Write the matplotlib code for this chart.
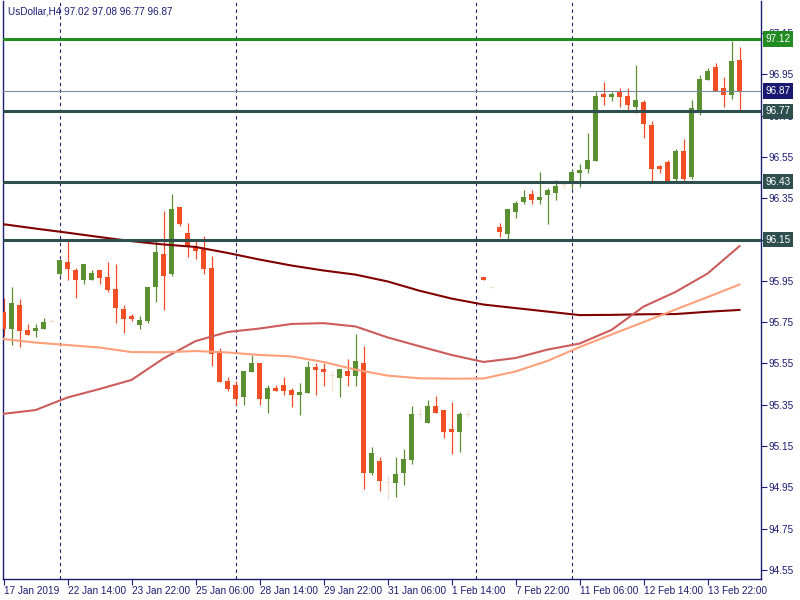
import numpy as np
import matplotlib
matplotlib.use('Agg')
import matplotlib.pyplot as plt

plt.rcParams['font.family'] = ['Liberation Sans', 'DejaVu Sans']

symbol = 'UsDollar,H4'
last_ohlc = [97.02, 97.08, 96.77, 96.87]

# H4 candles, index = bar number on the chart (59 is an empty slot)
opens = [95.799, 95.718, 95.831, 95.712, 95.708, 95.718, 95.757, 95.983, 96.041, 96.002,
         95.954, 95.954, 96.002, 95.967, 95.910, 95.812, 95.781, 95.737, 95.757, 95.918,
         96.080, 95.983, 96.307, 96.181, 96.118, 96.109, 96.012, 95.610, 95.465, 95.445,
         95.389, 95.510, 95.552, 95.379, 95.431, 95.445, 95.421, 95.398, 95.408, 95.532,
         95.523, 95.494, 95.481, 95.513, 95.490, 95.552, 95.021, 95.077, 94.976, 94.972,
         95.021, 95.084, 95.305, 95.263, 95.344, 95.324, 95.232, 95.219, 95.305, np.nan,
         95.968, 95.920, 96.210, 96.178, 96.285, 96.333, 96.370, 96.343, 96.367, 96.377,
         96.419, 96.425, 96.473, 96.493, 96.532, 96.855, 96.842, 96.864, 96.845, 96.793,
         96.816, 96.704, 96.507, 96.525, 96.444, 96.579, 96.454, 96.769, 96.924, 96.985,
         96.884, 96.851, 97.02]
highs = [95.867, 95.921, 95.863, 95.741, 95.741, 95.770, 95.765, 96.051, 96.148, 96.012,
         96.031, 96.002, 96.002, 96.041, 96.031, 95.831, 95.789, 95.779, 95.918, 96.154,
         96.287, 96.370, 96.307, 96.230, 96.148, 96.167, 96.070, 95.624, 95.484, 95.465,
         95.513, 95.591, 95.552, 95.445, 95.445, 95.484, 95.431, 95.455, 95.562, 95.552,
         95.552, 95.513, 95.523, 95.571, 95.692, 95.634, 95.145, 95.097, 95.011, 95.098,
         95.135, 95.344, 95.334, 95.373, 95.392, 95.324, 95.363, 95.314, 95.324, np.nan,
         95.968, 95.921, 96.230, 96.298, 96.336, 96.390, 96.390, 96.477, 96.399, 96.438,
         96.428, 96.487, 96.516, 96.666, 96.864, 96.913, 96.864, 96.884, 96.884, 96.997,
         96.826, 96.724, 96.512, 96.535, 96.588, 96.637, 96.826, 96.948, 96.981, 97.005,
         96.937, 97.111, 97.08]
lows = [95.683, 95.640, 95.631, 95.689, 95.679, 95.718, 95.750, 95.973, 95.954, 95.867,
        95.934, 95.954, 95.934, 95.896, 95.747, 95.699, 95.757, 95.718, 95.747, 95.847,
        95.809, 95.973, 96.215, 96.065, 96.056, 95.983, 95.539, 95.461, 95.418, 95.347,
        95.350, 95.510, 95.350, 95.311, 95.418, 95.398, 95.340, 95.301, 95.408, 95.398,
        95.442, 95.418, 95.389, 95.442, 95.442, 94.943, 95.011, 94.933, 94.888, 94.904,
        94.962, 95.064, 95.282, 95.263, 95.311, 95.190, 95.113, 95.122, 95.292, np.nan,
        95.955, 95.919, 96.162, 96.152, 96.256, 96.323, 96.323, 96.323, 96.226, 96.343,
        96.396, 96.396, 96.406, 96.473, 96.532, 96.803, 96.822, 96.793, 96.774, 96.764,
        96.643, 96.435, 96.473, 96.435, 96.435, 96.425, 96.444, 96.754, 96.924, 96.871,
        96.793, 96.832, 96.77]
closes = [95.717, 95.841, 95.708, 95.689, 95.721, 95.750, 95.757, 96.051, 96.009, 95.954,
          96.031, 95.986, 95.963, 95.905, 95.818, 95.766, 95.766, 95.760, 95.918, 96.089,
          95.973, 96.296, 96.225, 96.114, 96.096, 96.007, 95.597, 95.461, 95.427, 95.379,
          95.513, 95.552, 95.379, 95.431, 95.418, 95.418, 95.398, 95.411, 95.532, 95.519,
          95.510, 95.494, 95.523, 95.490, 95.562, 95.021, 95.116, 94.982, 94.976, 95.014,
          95.087, 95.305, 95.305, 95.344, 95.311, 95.219, 95.219, 95.305, 95.305, np.nan,
          95.955, 95.920, 96.188, 96.298, 96.327, 96.356, 96.343, 96.356, 96.390, 96.409,
          96.419, 96.477, 96.487, 96.535, 96.845, 96.842, 96.855, 96.842, 96.803, 96.826,
          96.711, 96.493, 96.493, 96.435, 96.579, 96.444, 96.787, 96.927, 96.966, 96.871,
          96.851, 97.014, 96.87]

# moving averages, read every 4 bars
ma_idx = [0, 4, 8, 12, 16, 20, 24, 28, 32, 36, 40, 44, 48, 52, 56, 60, 64, 68, 72, 76, 80, 84, 88, 92]
ma_long = [96.224, 96.203, 96.183, 96.162, 96.142, 96.126, 96.114, 96.085, 96.053, 96.024,
           96.000, 95.980, 95.947, 95.902, 95.864, 95.835, 95.818, 95.801, 95.784, 95.785,
           95.788, 95.789, 95.800, 95.809]
ma_mid = [95.306, 95.324, 95.385, 95.426, 95.470, 95.574, 95.658, 95.702, 95.719, 95.741,
          95.745, 95.729, 95.676, 95.633, 95.591, 95.557, 95.576, 95.617, 95.646, 95.712,
          95.825, 95.896, 95.985, 96.118]
ma_short = [95.668, 95.651, 95.639, 95.627, 95.605, 95.604, 95.610, 95.603, 95.591, 95.584,
            95.557, 95.520, 95.491, 95.478, 95.476, 95.477, 95.511, 95.562, 95.629, 95.690,
            95.750, 95.811, 95.871, 95.932]

levels = [97.12, 96.77, 96.43, 96.15]
bid = 96.87
separators = [7, 29, 59, 71]

xtick_idx = [0, 8, 16, 24, 32, 40, 48, 56, 64, 72, 80, 88]
xtick_labels = ['17 Jan 2019', '22 Jan 14:00', '23 Jan 22:00', '25 Jan 06:00', '28 Jan 14:00',
                '29 Jan 22:00', '31 Jan 06:00', '1 Feb 14:00', '7 Feb 22:00', '11 Feb 06:00',
                '12 Feb 14:00', '13 Feb 22:00']
ytick_vals = [97.15, 96.95, 96.75, 96.55, 96.35, 96.15, 95.95, 95.75, 95.55, 95.35, 95.15, 94.95, 94.75, 94.55]

navy = '#1c1c72'
up_col = '#5a8f32'
dn_col = '#f24d25'
doji_col = '#f2e2d2'

fig = plt.figure(figsize=(8, 6), dpi=100)
ax = fig.add_axes([2.5 / 800, 21 / 600, 758 / 800, 578 / 600])

o = np.array(opens)
h = np.array(highs)
l = np.array(lows)
c = np.array(closes)
x = np.arange(len(o))
ok = ~np.isnan(o)

cols = np.where(c > o, up_col, np.where(c < o, dn_col, doji_col))
ax.vlines(x[ok], l[ok], h[ok], colors=cols[ok], linewidth=0.9, zorder=2)
body = ok & (c != o)
ax.bar(x[body], np.abs(c - o)[body], bottom=np.minimum(o, c)[body], width=0.6,
       color=cols[body], linewidth=0, zorder=3)
doji = ok & (c == o)
ax.hlines(o[doji], x[doji] - 0.3, x[doji] + 0.3, colors=doji_col, linewidth=0.9, zorder=3)

ax.plot(ma_idx, ma_long, color='#800000', linewidth=1.5, zorder=4)
ax.plot(ma_idx, ma_mid, color='#cd5c5c', linewidth=1.5, zorder=4)
ax.plot(ma_idx, ma_short, color='#ffa07a', linewidth=1.5, zorder=4)

for s in separators:
    ax.axvline(s, color=navy, linewidth=0.8, linestyle=(0, (3, 3)), zorder=1)

ax.axhline(bid, color='#778899', linewidth=0.8, zorder=5)
for lv in levels:
    ax.axhline(lv, color='#228b22' if lv == levels[0] else '#2f4f4f', linewidth=2.2, zorder=5)

ax.set_xlim(-0.125, 94.625)
ax.set_ylim(94.506, 97.305)

ax.yaxis.tick_right()
ax.set_yticks(ytick_vals)
# the 96.15 label sits fully under the level box
ax.set_yticklabels(['' if v == 96.15 else '%.2f' % v for v in ytick_vals])
ax.set_xticks(xtick_idx)
ax.set_xticklabels(xtick_labels, ha='left')
ax.tick_params(axis='both', colors=navy, labelsize=7.2, length=4, width=0.8, pad=2)
ax.tick_params(axis='x', pad=1)

for side in ['left', 'bottom', 'right']:
    ax.spines[side].set_color(navy)
    ax.spines[side].set_linewidth(1)
ax.spines['top'].set_visible(False)

# price boxes on the scale
boxes = [(levels[0], '#228b22'), (levels[1], '#2f4f4f'), (levels[2], '#2f4f4f'),
         (levels[3], '#2f4f4f'), (bid, '#191970')]
for val, bc in boxes:
    ax.annotate('%.2f' % val, xy=(1, val), xycoords=('axes fraction', 'data'),
                xytext=(3.5, 0), textcoords='offset points', ha='left', va='center',
                fontsize=7.2, color='white', zorder=10, annotation_clip=False,
                bbox=dict(boxstyle='square,pad=0.28', fc=bc, ec='none'))

fig.text(8 / 800, 1 - 11 / 600, '%s %.2f %.2f %.2f %.2f' % (symbol, *last_ohlc),
         fontsize=7.2, color=navy, va='center', ha='left')

plt.savefig('out.png', dpi=100)
